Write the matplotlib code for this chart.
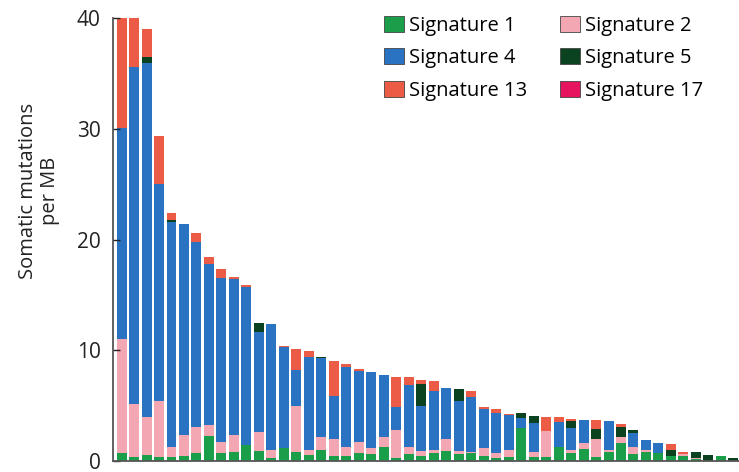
import numpy as np
import matplotlib
matplotlib.use('Agg')
from matplotlib import pyplot as plt
from matplotlib.patches import Patch

plt.rcParams['font.family'] = ['Open Sans', 'DejaVu Sans']

# segment heights per sample (bottom -> top): Sig1, Sig2, Sig4, Sig5, Sig13, Sig17
sig1 = [0.7, 0.4, 0.55, 0.35, 0.4, 0.5, 0.7, 2.3, 0.7, 0.8,
        1.45, 0.9, 0.3, 1.2, 0.85, 0.55, 1.05, 0.5, 0.5, 0.75,
        0.6, 1.3, 0.3, 0.6, 0.45, 0.7, 0.95, 0.6, 0.75, 0.45,
        0.3, 0.4, 2.95, 0.4, 0.4, 1.25, 0.7, 1.1, 0.4, 0.85,
        1.6, 0.65, 0.8, 0.7, 0.5, 0.45, 0.15, 0.0, 0.45, 0.0]
sig2 = [10.3, 4.75, 3.45, 5.05, 0.85, 1.85, 2.35, 0.95, 1.05, 1.55,
        0.0, 1.7, 0.75, 0.0, 4.1, 0.45, 1.15, 1.5, 0.8, 1.0,
        0.6, 0.9, 2.5, 0.7, 0.45, 0.35, 1.05, 0.35, 0.05, 0.75,
        0.45, 0.6, 0.0, 0.4, 2.3, 0.0, 0.3, 0.5, 1.6, 0.15,
        0.55, 0.6, 0.2, 0.0, 0.0, 0.2, 0.1, 0.0, 0.0, 0.0]
sig4 = [19.1, 30.45, 31.9, 19.6, 20.35, 19.05, 16.75, 14.55, 14.75, 14.05,
        14.25, 9.1, 11.35, 9.1, 3.3, 8.4, 7.1, 3.9, 7.2, 6.35,
        6.85, 5.6, 2.05, 5.55, 4.1, 5.3, 4.6, 4.45, 5.0, 3.55,
        3.55, 3.2, 0.9, 2.6, 0.0, 2.25, 2.0, 2.15, 0.0, 2.6,
        0.0, 1.25, 0.9, 0.95, 0.0, 0.0, 0.0, 0.0, 0.0, 0.0]
sig5 = [0.0, 0.0, 0.6, 0.0, 0.2, 0.0, 0.0, 0.0, 0.0, 0.0,
        0.0, 0.8, 0.0, 0.0, 0.0, 0.0, 0.1, 0.0, 0.0, 0.0,
        0.0, 0.0, 0.0, 0.0, 2.0, 0.0, 0.0, 1.1, 0.0, 0.0,
        0.0, 0.0, 0.45, 0.65, 0.0, 0.0, 0.6, 0.0, 0.9, 0.0,
        0.9, 0.35, 0.0, 0.0, 0.5, 0.0, 0.55, 0.55, 0.0, 0.25]
sig13 = [9.9, 4.4, 2.5, 4.3, 0.6, 0.0, 0.8, 0.6, 0.8, 0.2,
         0.2, 0.0, 0.0, 0.1, 1.85, 0.5, 0.0, 3.1, 0.25, 0.2,
         0.0, 0.0, 2.75, 0.7, 0.35, 0.85, 0.0, 0.0, 0.5, 0.15,
         0.4, 0.05, 0.0, 0.0, 1.3, 0.5, 0.2, 0.0, 0.8, 0.0,
         0.3, 0.0, 0.0, 0.0, 0.55, 0.2, 0.0, 0.0, 0.0, 0.0]
sig17 = [0.0] * 50

names = ['Signature 1', 'Signature 2', 'Signature 4', 'Signature 5', 'Signature 13', 'Signature 17']
colors = ['#1a9e4a', '#f2a7b3', '#2a72c2', '#0b4220', '#ec5b45', '#e6145f']
series = [sig1, sig2, sig4, sig5, sig13, sig17]

fig = plt.figure(figsize=(7.39, 4.72), dpi=100)
ax = fig.add_axes([0.153, 0.023, 0.847, 0.939])

x = np.arange(len(sig1))
bottom = np.zeros(len(sig1))
for vals, c in zip(series, colors):
    vals = np.array(vals)
    ax.bar(x, vals, width=0.8, bottom=bottom, color=c, linewidth=0)
    bottom += vals

ax.set_xlim(-0.68, 49.45)
ax.set_ylim(0, 40)
ax.set_yticks([0, 10, 20, 30, 40])
ax.set_xticks([])
ax.tick_params(axis='y', direction='in', length=5, width=1, pad=9, labelsize=15, colors='#222222')
for s in ['top', 'right']:
    ax.spines[s].set_visible(False)
for s in ['left', 'bottom']:
    ax.spines[s].set_color('#555555')
    ax.spines[s].set_linewidth(1.3)

ax.set_ylabel('Somatic mutations\nper MB', fontsize=14.5, color='#222222', linespacing=1.15)
ax.yaxis.set_label_coords(-0.085, 0.61)

# legend order: column 1 = 1, 4, 13 ; column 2 = 2, 5, 17
order = [0, 2, 4, 1, 3, 5]
handles = [Patch(facecolor=colors[i], edgecolor='#444444', linewidth=0.6) for i in order]
labels = [names[i] for i in order]
ax.legend(handles, labels, ncol=2, loc='upper left', bbox_to_anchor=(0.417, 1.028),
          frameon=False, fontsize=14.5, handlelength=1.0, handleheight=0.85,
          handletextpad=0.25, columnspacing=1.6, labelspacing=0.62, borderpad=0)

plt.savefig('out.png', dpi=100)
